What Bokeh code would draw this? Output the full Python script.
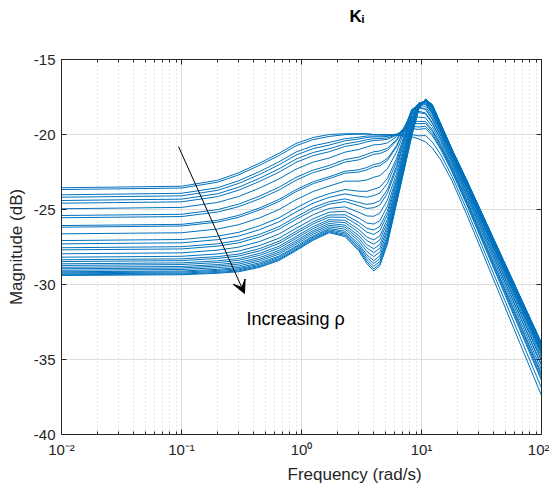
from bokeh.plotting import figure
from bokeh.models import (Range1d, FixedTicker, LogAxis, LinearAxis, Label, Arrow,
                          VeeHead, CustomJSTickFormatter, Title)
from bokeh.embed import file_html
from bokeh.resources import INLINE

freq = [0.01, 0.1, 0.2, 0.3, 0.45, 0.65, 0.9, 1.25, 1.7, 2.3, 3.0, 3.5, 4.0, 4.5,
        5.2, 6.2, 7.2, 8.3, 9.5, 10.8, 12.3, 14.5, 18, 24, 100]

mag_01 = [-23.55, -23.45, -23.05, -22.55, -21.90, -21.25, -20.60, -20.20, -20.00, -19.95, -19.95, -19.95, -20.00, -20.00, -20.00, -20.05, -20.10, -20.15, -20.30, -20.50, -20.90, -21.70, -23.10, -25.40, -37.40]
mag_02 = [-23.67, -23.57, -23.18, -22.69, -22.04, -21.40, -20.75, -20.34, -20.13, -20.01, -19.98, -19.97, -20.01, -20.01, -20.01, -20.02, -20.01, -20.01, -20.09, -20.07, -20.49, -21.36, -22.80, -25.07, -36.90]
mag_03 = [-24.02, -23.92, -23.55, -23.08, -22.46, -21.82, -21.17, -20.75, -20.53, -20.28, -20.18, -20.10, -20.10, -20.09, -20.08, -19.98, -19.81, -19.61, -19.66, -19.60, -20.08, -21.02, -22.51, -24.75, -36.41]
mag_04 = [-24.18, -24.09, -23.72, -23.26, -22.65, -22.02, -21.37, -20.94, -20.71, -20.42, -20.30, -20.20, -20.16, -20.16, -20.13, -19.98, -19.74, -19.46, -19.50, -19.45, -19.95, -20.91, -22.41, -24.65, -36.25]
mag_05 = [-24.40, -24.31, -23.95, -23.51, -22.91, -22.29, -21.64, -21.20, -20.95, -20.63, -20.47, -20.35, -20.28, -20.27, -20.23, -20.01, -19.65, -19.25, -19.28, -19.26, -19.79, -20.79, -22.30, -24.52, -36.07]
mag_06 = [-24.58, -24.49, -24.14, -23.71, -23.12, -22.51, -21.86, -21.41, -21.15, -20.80, -20.64, -20.49, -20.40, -20.38, -20.32, -20.05, -19.59, -19.10, -19.13, -19.13, -19.68, -20.69, -22.22, -24.44, -35.93]
mag_07 = [-24.95, -24.86, -24.53, -24.13, -23.56, -22.96, -22.31, -21.84, -21.57, -21.18, -21.00, -20.83, -20.69, -20.67, -20.56, -20.15, -19.52, -18.83, -18.84, -18.89, -19.48, -20.53, -22.07, -24.27, -35.69]
mag_08 = [-25.40, -25.32, -25.01, -24.64, -24.10, -23.51, -22.86, -22.37, -22.07, -21.67, -21.51, -21.32, -21.15, -21.10, -20.92, -20.34, -19.50, -18.58, -18.54, -18.63, -19.27, -20.35, -21.92, -24.11, -35.43]
mag_09 = [-25.55, -25.47, -25.17, -24.81, -24.28, -23.70, -23.05, -22.54, -22.24, -21.84, -21.69, -21.50, -21.32, -21.27, -21.06, -20.42, -19.51, -18.51, -18.46, -18.56, -19.20, -20.30, -21.87, -24.06, -35.35]
mag_10 = [-26.07, -25.99, -25.72, -25.39, -24.89, -24.33, -23.68, -23.15, -22.82, -22.45, -22.35, -22.20, -22.00, -21.92, -21.60, -20.75, -19.60, -18.36, -18.21, -18.33, -19.00, -20.12, -21.72, -23.89, -35.10]
mag_11 = [-26.18, -26.10, -25.84, -25.52, -25.02, -24.47, -23.81, -23.28, -22.94, -22.58, -22.50, -22.36, -22.16, -22.08, -21.73, -20.82, -19.63, -18.35, -18.17, -18.29, -18.96, -20.09, -21.69, -23.86, -35.05]
mag_12 = [-26.62, -26.55, -26.30, -26.01, -25.55, -25.00, -24.35, -23.80, -23.44, -23.11, -23.11, -23.03, -22.85, -22.74, -22.29, -21.17, -19.79, -18.33, -18.03, -18.14, -18.80, -19.96, -21.58, -23.73, -34.86]
mag_13 = [-27.07, -27.00, -26.78, -26.52, -26.08, -25.55, -24.90, -24.32, -23.94, -23.67, -23.78, -23.79, -23.65, -23.51, -22.93, -21.59, -20.03, -18.39, -17.94, -18.00, -18.65, -19.84, -21.47, -23.62, -34.69]
mag_14 = [-27.29, -27.22, -27.01, -26.77, -26.34, -25.82, -25.17, -24.58, -24.19, -23.96, -24.12, -24.18, -24.07, -23.91, -23.26, -21.81, -20.17, -18.46, -17.92, -17.95, -18.58, -19.78, -21.42, -23.56, -34.60]
mag_15 = [-27.55, -27.48, -27.29, -27.06, -26.65, -26.14, -25.49, -24.88, -24.48, -24.29, -24.53, -24.66, -24.59, -24.41, -23.68, -22.09, -20.35, -18.56, -17.91, -17.88, -18.50, -19.72, -21.36, -23.50, -34.51]
mag_16 = [-27.69, -27.63, -27.44, -27.22, -26.82, -26.31, -25.66, -25.05, -24.64, -24.47, -24.76, -24.93, -24.88, -24.70, -23.92, -22.25, -20.46, -18.62, -17.91, -17.86, -18.46, -19.68, -21.33, -23.47, -34.46]
mag_17 = [-27.95, -27.89, -27.71, -27.51, -27.13, -26.63, -25.98, -25.35, -24.93, -24.82, -25.19, -25.43, -25.45, -25.24, -24.37, -22.57, -20.68, -18.77, -17.92, -17.81, -18.39, -19.62, -21.28, -23.41, -34.37]
mag_18 = [-28.18, -28.12, -27.96, -27.77, -27.40, -26.91, -26.26, -25.62, -25.18, -25.12, -25.57, -25.90, -25.97, -25.74, -24.79, -22.85, -20.90, -18.92, -17.94, -17.76, -18.32, -19.56, -21.23, -23.35, -34.29]
mag_19 = [-28.35, -28.29, -28.14, -27.97, -27.60, -27.12, -26.47, -25.82, -25.37, -25.35, -25.86, -26.25, -26.37, -26.13, -25.11, -23.07, -21.06, -19.05, -17.97, -17.74, -18.27, -19.53, -21.20, -23.32, -34.23]
mag_20 = [-28.47, -28.41, -28.26, -28.10, -27.75, -27.26, -26.61, -25.96, -25.51, -25.52, -26.07, -26.51, -26.66, -26.41, -25.35, -23.23, -21.19, -19.15, -17.99, -17.73, -18.24, -19.50, -21.17, -23.29, -34.19]
mag_21 = [-28.62, -28.56, -28.42, -28.27, -27.92, -27.45, -26.80, -26.14, -25.68, -25.72, -26.33, -26.83, -27.03, -26.76, -25.64, -23.44, -21.35, -19.28, -18.03, -17.70, -18.20, -19.47, -21.15, -23.26, -34.14]
mag_22 = [-28.73, -28.67, -28.54, -28.39, -28.05, -27.58, -26.93, -26.27, -25.80, -25.87, -26.53, -27.07, -27.31, -27.03, -25.87, -23.60, -21.47, -19.37, -18.06, -17.70, -18.17, -19.44, -21.12, -23.24, -34.11]
mag_23 = [-28.85, -28.80, -28.67, -28.53, -28.20, -27.73, -27.08, -26.41, -25.93, -26.04, -26.74, -27.34, -27.62, -27.33, -26.11, -23.77, -21.61, -19.49, -18.09, -17.69, -18.14, -19.42, -21.10, -23.21, -34.07]
mag_24 = [-28.95, -28.90, -28.77, -28.64, -28.32, -27.85, -27.20, -26.52, -26.05, -26.17, -26.92, -27.56, -27.88, -27.58, -26.32, -23.91, -21.73, -19.60, -18.13, -17.68, -18.11, -19.39, -21.08, -23.19, -34.04]
mag_25 = [-29.05, -29.00, -28.88, -28.76, -28.43, -27.97, -27.32, -26.64, -26.16, -26.31, -27.10, -27.79, -28.14, -27.83, -26.53, -24.06, -21.85, -19.69, -18.16, -17.67, -18.09, -19.37, -21.06, -23.17, -34.01]
mag_26 = [-29.15, -29.10, -28.99, -28.87, -28.55, -28.10, -27.45, -26.76, -26.27, -26.45, -27.29, -28.02, -28.41, -28.09, -26.75, -24.21, -21.98, -19.81, -18.20, -17.66, -18.06, -19.35, -21.05, -23.15, -33.98]
mag_27 = [-29.22, -29.17, -29.06, -28.95, -28.64, -28.18, -27.53, -26.84, -26.35, -26.55, -27.42, -28.18, -28.60, -28.27, -26.90, -24.31, -22.07, -19.89, -18.22, -17.66, -18.05, -19.34, -21.03, -23.14, -33.95]
mag_28 = [-29.29, -29.24, -29.13, -29.03, -28.72, -28.27, -27.62, -26.92, -26.43, -26.65, -27.55, -28.34, -28.79, -28.46, -27.06, -24.43, -22.16, -19.97, -18.25, -17.65, -18.03, -19.32, -21.02, -23.12, -33.93]
mag_29 = [-29.35, -29.30, -29.20, -29.09, -28.79, -28.34, -27.69, -26.99, -26.49, -26.73, -27.66, -28.48, -28.96, -28.62, -27.19, -24.52, -22.24, -20.04, -18.28, -17.66, -18.01, -19.31, -21.01, -23.11, -33.92]
mag_30 = [-29.40, -29.35, -29.25, -29.15, -28.85, -28.40, -27.75, -27.05, -26.55, -26.80, -27.75, -28.60, -29.10, -28.75, -27.30, -24.60, -22.30, -20.10, -18.30, -17.65, -18.00, -19.30, -21.00, -23.10, -33.90]

curves = [mag_01, mag_02, mag_03, mag_04, mag_05, mag_06, mag_07, mag_08, mag_09, mag_10,
          mag_11, mag_12, mag_13, mag_14, mag_15, mag_16, mag_17, mag_18, mag_19, mag_20,
          mag_21, mag_22, mag_23, mag_24, mag_25, mag_26, mag_27, mag_28, mag_29, mag_30]

x_ticks = [0.01, 0.1, 1, 10, 100]
y_ticks = [-40, -35, -30, -25, -20, -15]

title_text = "K\u1d62"
x_label = "Frequency  (rad/s)"
y_label = "Magnitude (dB)"
note_text = "Increasing  \u03c1"

LINE = "#0072BD"
AX = "#262626"
FONT = "Liberation Sans"

p = figure(width=549, height=485, x_axis_type="log",
           x_range=Range1d(0.01, 100), y_range=Range1d(-40, -15),
           output_backend="svg", toolbar_location=None,
           min_border_left=61, min_border_right=8,
           min_border_top=59, min_border_bottom=51)
p.title.visible = False
p.background_fill_color = "white"
p.border_fill_color = "white"
p.outline_line_color = AX
p.outline_line_width = 1

minor = [m * 10.0 ** e for e in range(-2, 2) for m in range(2, 10)]
xt = FixedTicker(ticks=x_ticks, minor_ticks=minor)
yt = FixedTicker(ticks=y_ticks)

sup_js = """
const e = Math.round(Math.log10(tick));
const m = {'-2':'\u207b\u00b2','-1':'\u207b\u00b9','0':'\u2070','1':'\u00b9','2':'\u00b2'};
return '10' + m[String(e)];
"""

p.xaxis.ticker = xt
p.xaxis.formatter = CustomJSTickFormatter(code=sup_js)
p.yaxis.ticker = yt
p.yaxis.formatter = CustomJSTickFormatter(code="return String(tick);")

for ax in p.xaxis:
    ax.major_tick_in = 5
    ax.major_tick_out = 0
    ax.minor_tick_in = 3
    ax.minor_tick_out = 0
    ax.axis_line_color = AX
    ax.major_tick_line_color = AX
    ax.minor_tick_line_color = AX
    ax.major_label_text_font = FONT
    ax.major_label_text_font_size = "15px"
    ax.major_label_text_color = AX
    ax.major_label_standoff = 6
for ax in p.yaxis:
    ax.major_tick_in = 5
    ax.major_tick_out = 0
    ax.minor_tick_line_color = None
    ax.axis_line_color = AX
    ax.major_tick_line_color = AX
    ax.major_label_text_font = FONT
    ax.major_label_text_font_size = "15px"
    ax.major_label_text_color = AX
    ax.major_label_standoff = 6
    ax.axis_label = y_label
    ax.axis_label_text_font = FONT
    ax.axis_label_text_font_size = "17px"
    ax.axis_label_text_font_style = "normal"
    ax.axis_label_text_color = AX
    ax.axis_label_standoff = 5

# top axis: tick marks only; blank labels reserve room so the title sits high
top_ax = LogAxis(ticker=xt, major_tick_in=5, major_tick_out=0, minor_tick_in=3,
                 minor_tick_out=0, major_label_text_font_size="14px",
                 major_label_standoff=14, axis_line_color=AX,
                 major_tick_line_color=AX, minor_tick_line_color=AX,
                 major_label_text_color=AX,
                 formatter=CustomJSTickFormatter(code="return ' ';"))
p.add_layout(top_ax, "above")
title_model = Title(text=title_text, align="left", offset=288, standoff=2,
                    text_font=FONT, text_font_size="17px", text_font_style="bold",
                    text_color="black")
p.add_layout(title_model, "above")

right_ax = LinearAxis(ticker=yt, major_tick_in=5, major_tick_out=0,
                      minor_tick_line_color=None, major_label_text_font_size="0px",
                      major_label_standoff=0, axis_line_color=AX,
                      major_tick_line_color=AX)
right_ax.major_label_text_color = None
p.add_layout(right_ax, "right")

p.add_layout(Title(text=x_label, align="left", offset=226, standoff=4,
                   text_font=FONT, text_font_size="17px", text_font_style="normal",
                   text_color=AX), "below")

p.xgrid.ticker = xt
p.xgrid.grid_line_color = "#dedede"
p.xgrid.minor_grid_line_color = "#cfcfcf"
p.xgrid.minor_grid_line_dash = "1 3"
p.ygrid.ticker = yt
p.ygrid.grid_line_color = "#dedede"

for m in curves:
    p.line(freq, m, line_color=LINE, line_width=1)

# annotations
arrow_start = (0.0944, -20.8)
arrow_end = (0.335, -30.6)
p.add_layout(Arrow(end=VeeHead(size=13, fill_color="black", line_color="black"),
                   x_start=arrow_start[0], y_start=arrow_start[1],
                   x_end=arrow_end[0], y_end=arrow_end[1],
                   line_color="black", line_width=1))
p.add_layout(Label(x=0.348, y=-32.27, text=note_text, text_font=FONT,
                   text_font_size="18px", text_baseline="middle", text_color="black"))

open("out.html", "w").write(file_html(p, INLINE))
